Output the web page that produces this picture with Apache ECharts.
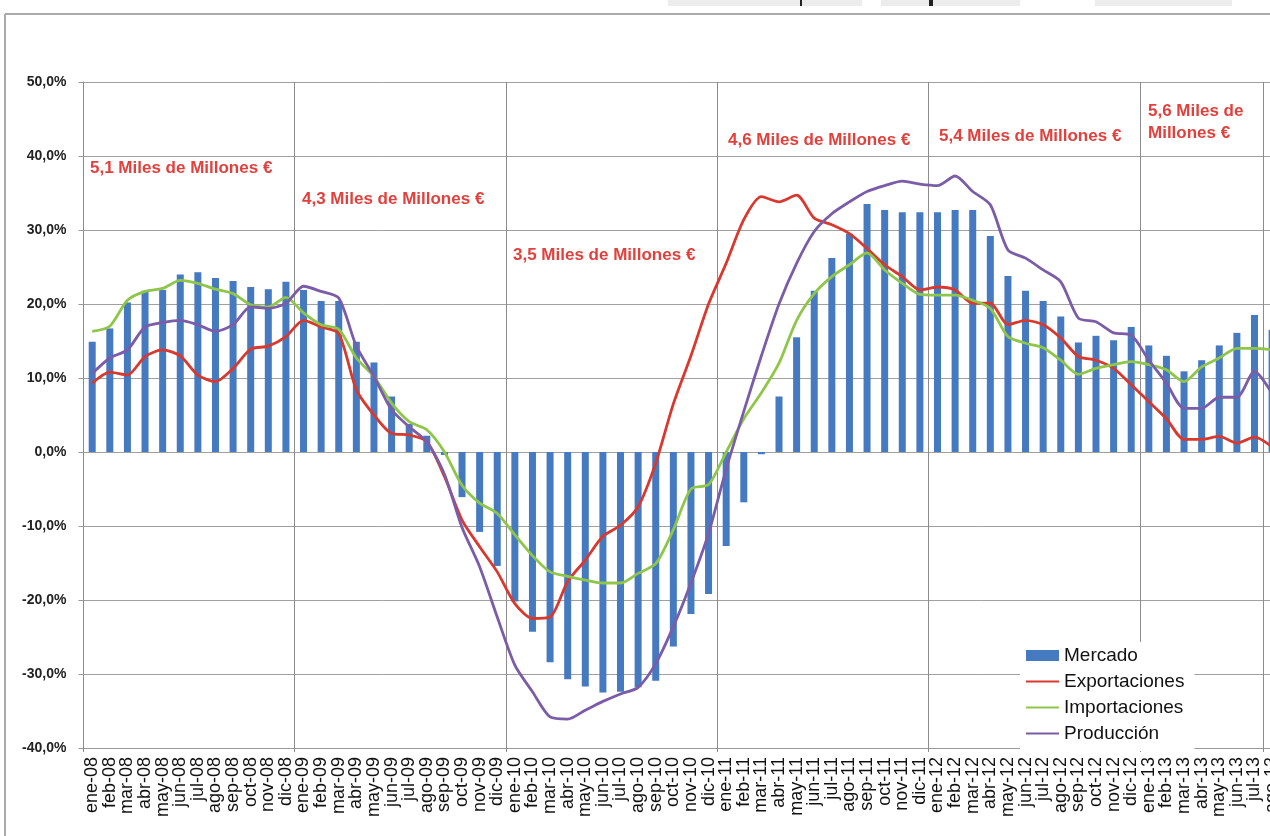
<!DOCTYPE html>
<html><head><meta charset="utf-8">
<script src="https://cdn.jsdelivr.net/npm/echarts@6/dist/echarts.min.js"></script>
<style>html,body{margin:0;padding:0;overflow:hidden;background:#fff;width:1270px;height:836px}#c{width:1300px;height:836px}</style>
</head><body><div id="c"></div>
<script>
const categories = [
 'ene-08','feb-08','mar-08','abr-08','may-08','jun-08','jul-08','ago-08','sep-08','oct-08','nov-08','dic-08',
 'ene-09','feb-09','mar-09','abr-09','may-09','jun-09','jul-09','ago-09','sep-09','oct-09','nov-09','dic-09',
 'ene-10','feb-10','mar-10','abr-10','may-10','jun-10','jul-10','ago-10','sep-10','oct-10','nov-10','dic-10',
 'ene-11','feb-11','mar-11','abr-11','may-11','jun-11','jul-11','ago-11','sep-11','oct-11','nov-11','dic-11',
 'ene-12','feb-12','mar-12','abr-12','may-12','jun-12','jul-12','ago-12','sep-12','oct-12','nov-12','dic-12',
 'ene-13','feb-13','mar-13','abr-13','may-13','jun-13','jul-13','ago-13'];

const mercado = [
 14.9,16.7,20.2,21.8,21.9,24.0,24.3,23.5,23.1,22.3,22.0,23.0,
 21.9,20.4,20.4,14.9,12.1,7.5,3.8,2.2,-0.4,-6.1,-10.8,-15.4,
 -20.2,-24.3,-28.4,-30.7,-31.7,-32.5,-32.4,-31.8,-30.9,-26.3,-21.9,-19.2,
 -12.7,-6.8,-0.3,7.5,15.5,21.8,26.2,29.5,33.5,32.7,32.4,32.4,
 32.4,32.7,32.7,29.2,23.8,21.8,20.4,18.3,14.8,15.7,15.1,16.9,
 14.4,13.0,10.9,12.4,14.4,16.1,18.5,16.5];

const exportaciones = [
 9.3,10.8,10.4,12.9,13.8,13.0,10.4,9.5,11.3,13.9,14.3,15.6,
 17.8,16.9,16.0,8.4,5.0,2.5,2.3,1.4,-3.3,-9.2,-12.8,-16.2,
 -20.5,-22.5,-22.3,-17.5,-14.6,-11.4,-9.9,-7.4,-1.5,6.5,13.0,20.0,
 25.5,31.4,34.5,33.8,34.7,31.6,30.7,29.5,27.5,25.3,23.7,21.9,
 22.3,21.9,20.1,20.1,17.2,17.8,17.2,15.4,12.9,12.4,11.3,9.1,
 6.8,4.5,1.7,1.7,2.1,1.2,2.0,0.7];

const importaciones = [
 16.3,17.0,20.5,21.7,22.1,23.2,22.8,22.0,21.4,19.9,19.6,20.9,
 18.8,17.2,16.6,12.7,10.2,6.6,4.1,3.0,0.0,-4.5,-6.9,-8.3,
 -11.2,-14.0,-16.2,-16.8,-17.3,-17.7,-17.7,-16.4,-15.1,-10.5,-5.0,-4.4,
 0.0,4.5,8.0,12.0,17.8,21.4,23.7,25.3,26.9,24.6,22.8,21.3,
 21.2,21.2,20.5,19.4,15.6,14.7,14.1,12.4,10.5,11.3,11.8,12.2,
 11.8,11.1,9.5,11.5,12.7,14.0,14.0,13.8];

const produccion = [
 10.6,12.7,13.8,16.9,17.5,17.8,17.2,16.3,17.2,19.6,19.4,20.1,
 22.4,21.7,20.8,14.3,10.2,5.7,3.4,1.4,-3.0,-10.2,-15.5,-22.3,
 -28.8,-32.4,-35.8,-36.1,-34.9,-33.7,-32.7,-31.8,-28.6,-23.6,-17.7,-11.0,
 -2.3,5.5,13.0,20.0,25.5,29.8,32.2,33.8,35.2,36.0,36.6,36.2,
 36.0,37.3,35.2,33.4,27.3,26.2,24.6,23.0,18.1,17.6,16.1,15.8,
 12.4,9.3,5.9,5.9,7.4,7.4,10.9,7.9];

const seriesNames = ['Mercado','Exportaciones','Importaciones','Producción'];
const annotationTexts = ['5,1 Miles de Millones €','4,3 Miles de Millones €','3,5 Miles de Millones €',
  '4,6 Miles de Millones €','5,4 Miles de Millones €','5,6 Miles de\nMillones €'];

// layout (pixels) for annotations
const annotationPos = [[90,168],[302,199],[513,255],[728,140],[939,136],[1148,122]];

const colors = {bar:'#4579c0', red:'#d9382e', green:'#8fc64a', purple:'#7a5ca8', note:'#e2403c'};
const FONT = 'Liberation Sans';

const chart = echarts.init(document.getElementById('c'), null, {renderer:'canvas'});

const graphics = [
  {type:'rect', shape:{x:668,y:0,width:194,height:6}, style:{fill:'#ececec'}},
  {type:'rect', shape:{x:881,y:0,width:139,height:6}, style:{fill:'#ececec'}},
  {type:'rect', shape:{x:1095,y:0,width:137,height:6}, style:{fill:'#ececec'}},
  {type:'rect', shape:{x:800,y:0,width:2,height:6}, style:{fill:'#222'}},
  {type:'rect', shape:{x:929,y:0,width:4,height:6}, style:{fill:'#222'}},
  {type:'line', shape:{x1:5,y1:14,x2:1300,y2:14}, style:{stroke:'#aaaaaa', lineWidth:2}},
  {type:'line', shape:{x1:5,y1:14,x2:5,y2:836}, style:{stroke:'#aaaaaa', lineWidth:2}}
];
annotationTexts.forEach((t,i)=>{
  graphics.push({type:'text', x:annotationPos[i][0], y:annotationPos[i][1], z:10,
    style:{text:t, fill:colors.note, font:'bold 17px "'+FONT+'"', verticalAlign:'middle', lineHeight:22}});
});

const legendData = seriesNames.map((n,i)=> i===0 ? {name:n, icon:'rect'} : {name:n, itemStyle:{opacity:0}});

const option = {
  animation:false,
  backgroundColor:'#fff',
  textStyle:{fontFamily:FONT},
  grid:{left:83.4, top:82, width:1197.5, height:666, containLabel:false},
  legend:{
    orient:'vertical', left:1020, top:642,
    backgroundColor:'#fff', padding:[4,10,8,5],
    itemWidth:33, itemHeight:11, itemGap:7,
    textStyle:{fontSize:19, color:'#111', fontFamily:FONT},
    data:legendData, z:20
  },
  xAxis:{
    type:'category', data:categories, boundaryGap:true,
    axisLine:{show:true, onZero:false, lineStyle:{color:'#9a9a9a', width:1}},
    axisTick:{show:true, interval:11, length:4, lineStyle:{color:'#888'}},
    axisLabel:{interval:0, rotate:90, margin:9, fontSize:18, color:'#111', fontFamily:FONT},
    splitLine:{show:true, interval:11, lineStyle:{color:'#8c8c8c', width:1}}
  },
  yAxis:{
    type:'value', min:-40, max:50, interval:10,
    axisLine:{show:true, lineStyle:{color:'#8c8c8c', width:1}},
    axisTick:{show:true, length:5, lineStyle:{color:'#9a9a9a'}},
    axisLabel:{formatter:v=>v.toFixed(1).replace('.',',')+'%', fontSize:14, fontWeight:'bold', color:'#222', margin:17, padding:[8,0,0,0], fontFamily:FONT},
    splitLine:{show:true, lineStyle:{color:'#a0a0a0', width:1}}
  },
  series:[
    {name:seriesNames[0], type:'bar', data:mercado, barWidth:7, itemStyle:{color:colors.bar}, z:2},
    {name:seriesNames[1], type:'line', data:exportaciones, symbol:'none', smooth:0.25, lineStyle:{color:colors.red, width:2.8}, itemStyle:{color:colors.red}, z:3},
    {name:seriesNames[2], type:'line', data:importaciones, symbol:'none', smooth:0.25, lineStyle:{color:colors.green, width:2.8}, itemStyle:{color:colors.green}, z:3},
    {name:seriesNames[3], type:'line', data:produccion, symbol:'none', smooth:0.25, lineStyle:{color:colors.purple, width:2.8}, itemStyle:{color:colors.purple}, z:3}
  ],
  graphic:graphics
};
chart.setOption(option);
</script></body></html>
